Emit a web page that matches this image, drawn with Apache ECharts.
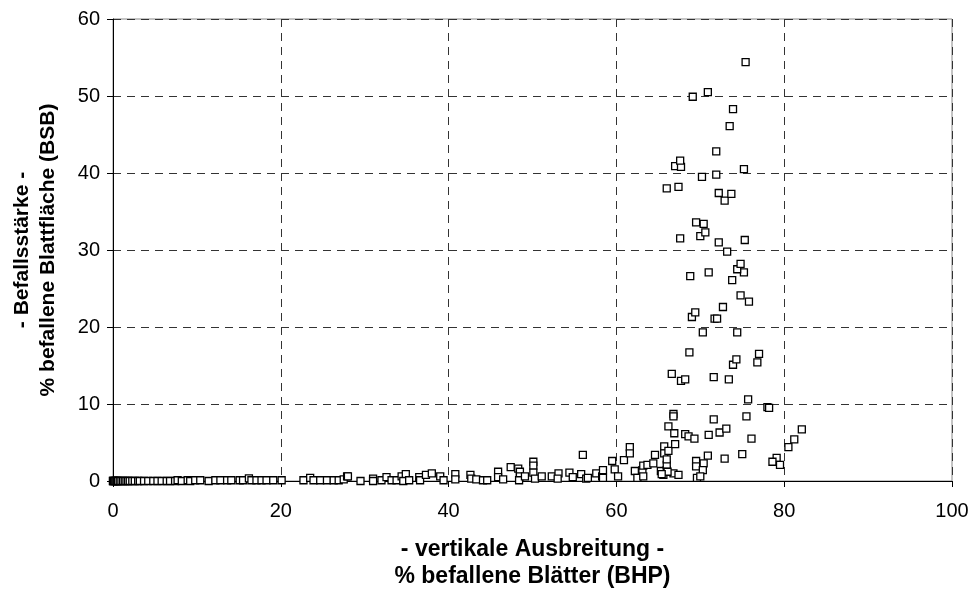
<!DOCTYPE html>
<html>
<head>
<meta charset="utf-8">
<script src="https://cdn.jsdelivr.net/npm/echarts@6/dist/echarts.min.js"></script>
<style>
  html, body { margin: 0; padding: 0; background: #fff; }
  #chart { width: 971px; height: 591px; }
</style>
</head>
<body>
<div id="chart"></div>
<script>
// Vertical spread (% infested leaves, BHP) for every sample
const bhp = [
  // near-zero band, 0-28 %
  0.0, 0.0, 0.1, 0.2, 0.3, 0.4, 0.5, 0.6, 0.8, 1.0, 1.2, 1.4, 1.6, 1.8, 2.0, 2.3, 2.6, 3.0,
  3.2, 3.7, 4.2, 4.8, 5.3, 5.8, 6.4, 6.8, 7.4, 7.7, 8.2, 8.9, 9.2, 9.8, 10.4, 11.4, 12.2,
  12.8, 13.6, 14.1, 15.1, 15.5, 16.2, 16.5, 17.1, 17.7, 18.3, 19.1, 20.1, 22.7, 23.5, 23.9,
  24.7, 25.5, 26.3, 26.9, 27.5, 27.9,
  // 28-58 %
  28.0, 29.5, 31.0, 31.0, 32.0, 32.6, 33.2, 33.8, 34.4, 34.9, 34.6, 35.3, 36.5, 36.6, 37.3,
  38.0, 39.0, 39.4, 40.8, 40.8, 42.6, 42.7, 43.3, 44.1, 44.6, 45.9, 45.9, 46.5, 47.4, 48.3,
  48.5, 48.5, 48.4, 49.1, 50.1, 50.1, 50.1, 50.3, 51.1, 52.3, 53.1, 53.0, 54.4, 54.8, 55.8,
  56.4, 56.0, 56.6, 57.6, 58.3, 58.4, 58.4,
  // 59-70 %, low severity
  59.5, 59.8, 60.2, 60.9, 61.6, 61.6, 62.2, 62.5, 63.1, 63.2, 63.2, 63.7, 64.4, 64.6, 65.3,
  65.6, 65.7, 65.7, 66.0, 66.0, 66.0, 66.2, 66.2, 66.8, 66.8, 66.8, 66.9, 67.0, 67.4, 68.2,
  68.6, 69.3, 69.5, 69.5, 69.6, 66.1, 65.4, 70.9, 70.4, 70.3, 70.0, 72.9, 75.0, 79.1, 78.6,
  79.5, 71.0, 72.3, 73.1, 76.1, 82.1, 81.2, 80.5, 71.6, 75.5, 75.7, 78.0, 78.2,
  // 66-77 %, rising severity
  66.6, 67.7, 68.2, 71.6, 73.4, 73.9, 74.3, 76.8, 77.0, 68.7, 70.3, 74.4, 71.7, 72.0, 69.0,
  69.4, 72.7, 75.8, 74.8, 73.8, 68.8, 71.0, 75.2, 74.4, 74.8, 73.2, 72.2, 75.3, 67.6, 70.0,
  70.6, 70.4, 69.5, 72.9, 72.2, 73.7, 66.0, 67.4, 70.2, 71.9, 75.2, 67.0, 67.7, 67.6, 71.9,
  73.5, 73.9, 69.1, 70.9, 75.4
];

// Severity (% infested leaf area, BSB), same order as bhp
const bsb = [
  0.0, 0.0, 0.0, 0.0, 0.0, 0.0, 0.0, 0.0, 0.0, 0.0, 0.0, 0.0, 0.0, 0.0, 0.0, 0.0, 0.0, 0.0,
  0.0, 0.0, 0.0, 0.0, 0.0, 0.0, 0.0, 0.0, 0.0, 0.1, 0.0, 0.1, 0.0, 0.1, 0.1, 0.0, 0.1,
  0.1, 0.1, 0.1, 0.1, 0.1, 0.35, 0.1, 0.1, 0.1, 0.1, 0.1, 0.1, 0.1, 0.4, 0.1,
  0.1, 0.1, 0.1, 0.1, 0.2, 0.6,
  0.6, 0.0, 0.3, 0.0, 0.1, 0.5, 0.1, 0.1, 0.6, 0.9, 0.0, 0.1, 0.5, 0.1, 0.8,
  1.0, 0.6, 0.1, 0.9, 0.2, 0.8, 0.3, 0.2, 0.1, 0.1, 1.2, 0.5, 0.2, 1.8, 1.6,
  1.2, 0.6, 0.1, 0.6, 2.5, 2.0, 1.1, 0.3, 0.6, 0.6, 1.0, 0.3, 1.1, 0.5, 0.9,
  0.3, 3.4, 0.4, 1.0, 0.6, 1.4, 0.4,
  2.6, 1.5, 0.6, 2.7, 4.4, 3.6, 1.3, 0.4, 1.4, 2.0, 0.6, 2.1, 2.3, 3.4, 1.3,
  0.8, 4.5, 3.6, 1.4, 2.1, 2.8, 3.9, 7.1, 1.0, 8.7, 8.4, 6.2, 4.8, 0.8, 6.1,
  5.8, 5.5, 2.6, 1.9, 0.4, 1.2, 0.9, 3.3, 2.3, 1.4, 0.6, 2.9, 3.5, 3.0, 2.5,
  2.1, 6.0, 6.3, 6.8, 5.5, 6.7, 5.4, 4.4, 8.0, 8.4, 10.6, 9.6, 9.5,
  13.9, 13.0, 13.2, 13.5, 13.2, 15.1, 15.8, 15.4, 16.5, 16.7, 19.3, 19.3, 21.1, 21.1, 21.3,
  21.9, 22.6, 23.3, 24.1, 26.1, 26.6, 27.1, 27.1, 27.5, 28.2, 29.8, 31.0, 31.3, 31.5, 31.8,
  32.3, 33.4, 33.6, 36.4, 37.4, 37.3, 38.0, 38.2, 39.5, 39.8, 40.5, 40.9, 40.8, 41.6, 42.8,
  46.1, 48.3, 49.9, 50.5, 54.4
];

const xTicks = [0, 20, 40, 60, 80, 100];
const yTicks = [0, 10, 20, 30, 40, 50, 60];
const xTitle = '- vertikale Ausbreitung -\n% befallene Blätter (BHP)';
const yTitle = '- Befallsstärke -\n% befallene Blattfläche (BSB)';

const points = bhp.map((x, i) => [x, bsb[i]]);
const FONT = '"Liberation Sans", Arial, sans-serif';

const gridDash = { color: '#333', width: 1, type: [8, 6] };

const chart = echarts.init(document.getElementById('chart'), null, { renderer: 'canvas' });
chart.setOption({
  animation: false,
  backgroundColor: '#fff',
  grid: {
    left: 113, right: 19, top: 19, bottom: 110,
    containLabel: false,
    outerBoundsMode: 'none',
    show: true, borderColor: '#888', borderWidth: 1, backgroundColor: 'transparent'
  },
  xAxis: {
    type: 'value',
    min: xTicks[0], max: xTicks[xTicks.length - 1], interval: xTicks[1] - xTicks[0],
    name: xTitle,
    nameLocation: 'middle',
    nameGap: 55,
    nameMoveOverlap: false,
    nameTextStyle: { fontFamily: FONT, fontSize: 23, fontWeight: 'bold', color: '#000', lineHeight: 27 },
    axisLine: { show: true, onZero: false, lineStyle: { color: '#000', width: 1 } },
    axisTick: { show: true, inside: false, length: 6, lineStyle: { color: '#000', width: 1 } },
    axisLabel: { fontFamily: FONT, fontSize: 20, color: '#000', margin: 20 },
    splitLine: { show: true, lineStyle: gridDash }
  },
  yAxis: {
    type: 'value',
    min: yTicks[0], max: yTicks[yTicks.length - 1], interval: yTicks[1] - yTicks[0],
    name: yTitle,
    nameLocation: 'middle',
    nameGap: 52,
    nameRotate: 90,
    nameMoveOverlap: false,
    nameTextStyle: { fontFamily: FONT, fontSize: 21, fontWeight: 'bold', color: '#000', lineHeight: 26 },
    axisLine: { show: true, onZero: false, lineStyle: { color: '#000', width: 1 } },
    axisTick: { show: true, inside: false, length: 6, lineStyle: { color: '#000', width: 1 } },
    axisLabel: { fontFamily: FONT, fontSize: 20, color: '#000', margin: 13 },
    splitLine: { show: true, lineStyle: gridDash }
  },
  series: [{
    type: 'scatter',
    data: points,
    symbol: 'rect',
    symbolSize: 7,
    clip: false,
    silent: true,
    itemStyle: { color: '#fff', borderColor: '#000', borderWidth: 1.3, opacity: 1 }
  }]
});
</script>
</body>
</html>
